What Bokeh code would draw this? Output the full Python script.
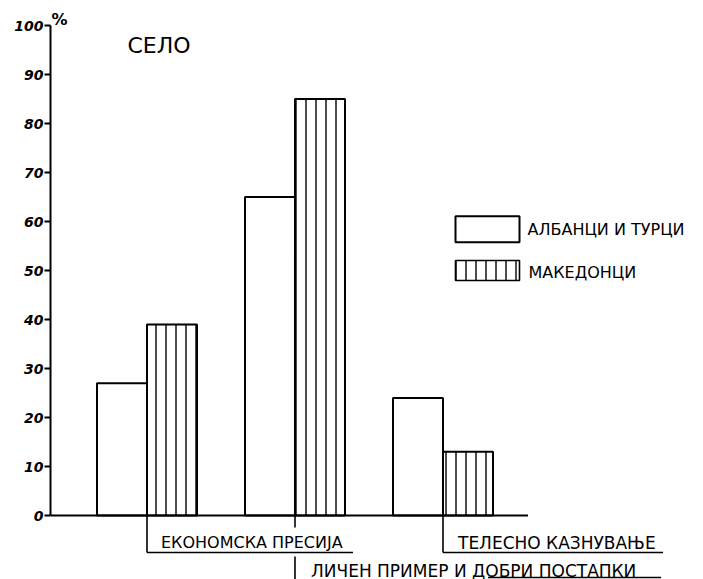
from bokeh.plotting import figure
from bokeh.models import Range1d, FixedTicker
from bokeh.core.properties import value
from bokeh.embed import file_html
from bokeh.resources import INLINE

# ---- data ----
categories = ["ЕКОНОМСКА ПРЕСИЈА", "ЛИЧЕН ПРИМЕР И ДОБРИ ПОСТАПКИ", "ТЕЛЕСНО  КАЗНУВАЊЕ"]
series_names = ["АЛБАНЦИ И ТУРЦИ", "МАКЕДОНЦИ"]
albanians_turks = [27, 65, 24]
macedonians = [39, 85, 13]
y_ticks = [0, 10, 20, 30, 40, 50, 60, 70, 80, 90, 100]
chart_title = "СЕЛО"
unit_label = "%"

# ---- layout (pixels -> data helpers) ----
W, H = 703, 579
LEFT = 50
PX_PER_UNIT = 4.9
BASE_CY = 515
GROUP_PX = 148.0
X_START = 0.348


def px(dx):
    return dx / GROUP_PX


def py(dy):
    return dy / PX_PER_UNIT


y_lo = -(H - BASE_CY) / PX_PER_UNIT
y_hi = BASE_CY / PX_PER_UNIT
x_end = X_START + (W - LEFT) / GROUP_PX

FONT = value("DejaVu Sans")

p = figure(width=W, height=H, output_backend="svg", toolbar_location=None,
           x_axis_location=None, y_axis_location="left",
           x_range=Range1d(X_START, x_end), y_range=Range1d(y_lo, y_hi),
           min_border_left=LEFT, min_border_right=0, min_border_top=0,
           min_border_bottom=0, tools="")
p.outline_line_color = None
p.grid.visible = False
p.background_fill_color = "white"
p.border_fill_color = "white"

ax = p.yaxis[0]
ax.ticker = FixedTicker(ticks=y_ticks)
ax.bounds = (0, 100)
ax.axis_line_width = 2
ax.axis_line_color = "black"
ax.major_tick_line_width = 2
ax.major_tick_out = 6
ax.major_tick_in = 0
ax.minor_tick_out = 0
ax.minor_tick_in = 0
ax.major_label_standoff = 1
ax.major_label_text_font = "DejaVu Sans"
ax.major_label_text_font_style = "bold italic"
ax.major_label_text_font_size = "14px"
ax.major_label_text_color = "black"

n = len(categories)
centers = [i + 1 for i in range(n)]
bw = px(50)

# bars
p.vbar(x=[c - bw / 2 for c in centers], top=albanians_turks, bottom=0, width=bw,
       fill_color="white", line_color="black", line_width=2)
p.vbar(x=[c + bw / 2 for c in centers], top=macedonians, bottom=0, width=bw,
       fill_color="white", line_color="black", line_width=2,
       hatch_pattern="|", hatch_color="black", hatch_scale=10, hatch_weight=1.4)

# baseline (x axis line)
p.segment(x0=[X_START], y0=[0], x1=[n + px(85)], y1=[0], line_color="black", line_width=2)

# title and unit
p.text(x=[X_START + px(77)], y=[96.0], text=[chart_title], text_font=FONT,
       text_font_size="22px", text_baseline="middle", text_align="left")
p.text(x=[X_START + px(1)], y=[101.2], text=[unit_label], text_font=FONT,
       text_font_size="16px", text_font_style="bold", text_baseline="middle", text_align="left")

LW = 1.6
# category 1 bracket
c1, c2, c3 = centers
p.segment(x0=[c1, c1], y0=[0, -py(37)], x1=[c1, c1 + px(206)], y1=[-py(37), -py(37)],
          line_color="black", line_width=LW)
p.text(x=[c1 + px(14)], y=[-py(27)], text=[categories[0]], text_font=FONT,
       text_font_size="16px", text_baseline="middle", text_align="left")
# category 2 marker
p.segment(x0=[c2, c2], y0=[0, -py(41)], x1=[c2, c2], y1=[-py(12), y_lo],
          line_color="black", line_width=LW)
p.text(x=[c2 + px(16)], y=[-py(55)], text=[categories[1]], text_font=FONT,
       text_font_size="17px", text_baseline="middle", text_align="left")
p.segment(x0=[c2 + px(193)], y0=[-py(62)], x1=[c2 + px(366)], y1=[-py(62)],
          line_color="black", line_width=LW)
# category 3 bracket
p.segment(x0=[c3, c3], y0=[0, -py(37)], x1=[c3, c3 + px(220)], y1=[-py(37), -py(37)],
          line_color="black", line_width=LW)
p.text(x=[c3 + px(15)], y=[-py(27)], text=[categories[2]], text_font=FONT,
       text_font_size="17px", text_baseline="middle", text_align="left")

# legend
leg_x = X_START + px(437)
leg_w = px(64)
p.rect(x=[leg_x], y=[58.4], width=leg_w, height=py(26), fill_color="white",
       line_color="black", line_width=2)
p.rect(x=[leg_x], y=[50.0], width=leg_w, height=py(20), fill_color="white",
       line_color="black", line_width=1.6,
       hatch_pattern="|", hatch_color="black", hatch_scale=10, hatch_weight=1.4)
p.text(x=[leg_x + leg_w / 2 + px(8), leg_x + leg_w / 2 + px(9)], y=[58.4, 49.6],
       text=series_names, text_font=FONT, text_font_size="16px",
       text_baseline="middle", text_align="left")

open("out.html", "w").write(file_html(p, INLINE))
